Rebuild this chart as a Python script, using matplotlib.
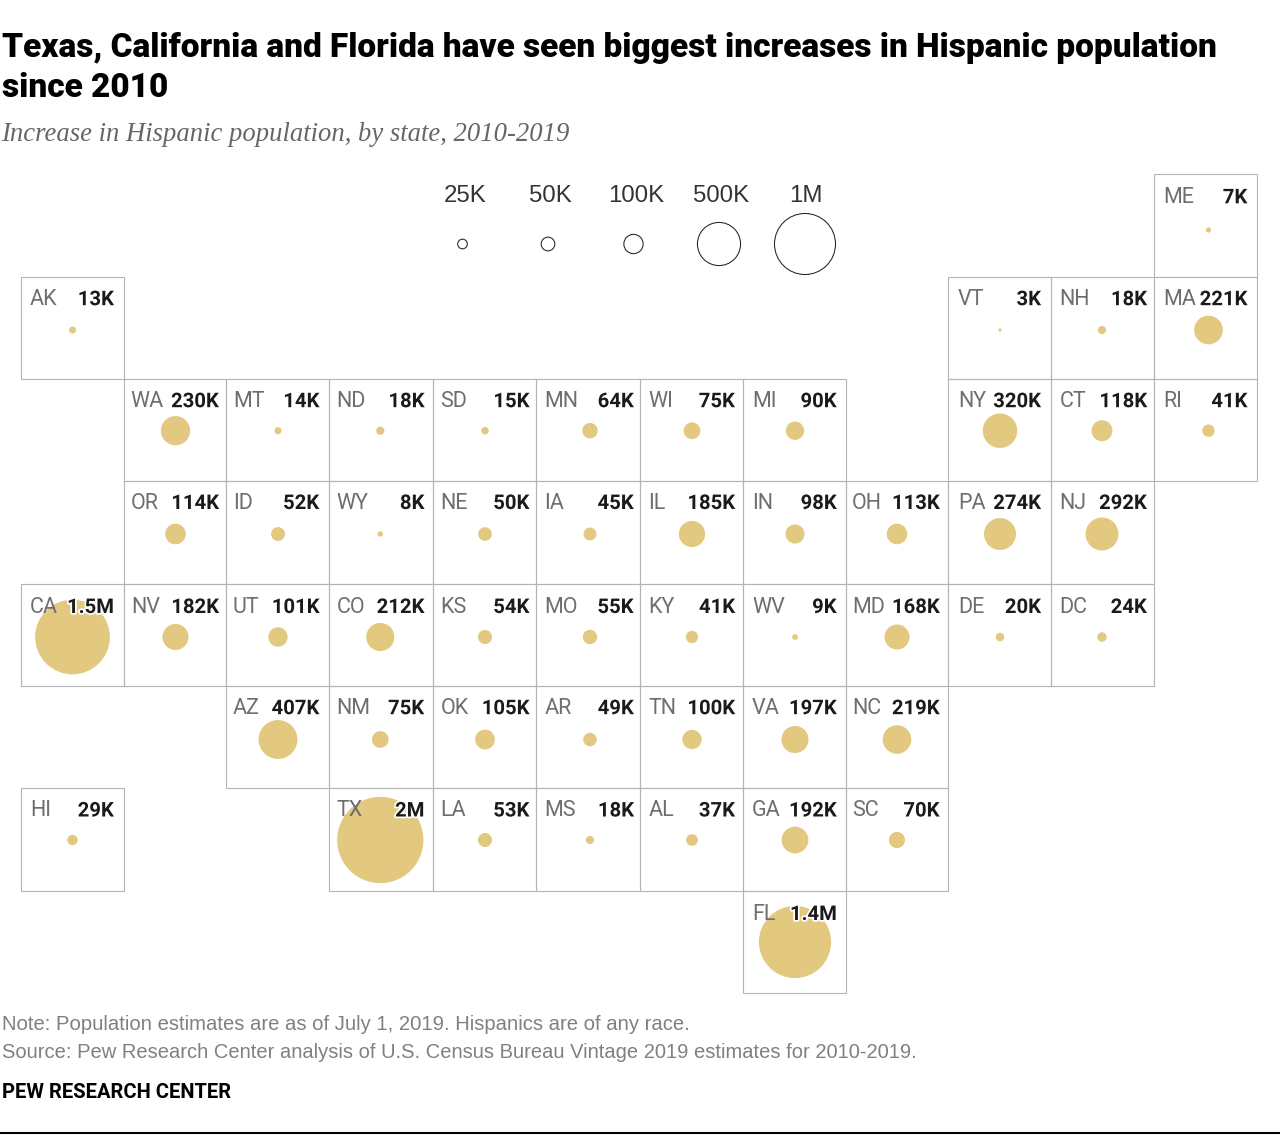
import matplotlib
matplotlib.use("Agg")
import matplotlib.pyplot as plt
import matplotlib.patheffects as pe
from matplotlib.patches import Rectangle

states = ["ME","AK","VT","NH","MA","WA","MT","ND","SD","MN","WI","MI","NY","CT","RI",
          "OR","ID","WY","NE","IA","IL","IN","OH","PA","NJ",
          "CA","NV","UT","CO","KS","MO","KY","WV","MD","DE","DC",
          "AZ","NM","OK","AR","TN","VA","NC",
          "HI","TX","LA","MS","AL","GA","SC","FL"]
columns = [11,0,9,10,11,1,2,3,4,5,6,7,9,10,11,
           1,2,3,4,5,6,7,8,9,10,
           0,1,2,3,4,5,6,7,8,9,10,
           2,3,4,5,6,7,8,
           0,3,4,5,6,7,8,7]
rows = [0,1,1,1,1,2,2,2,2,2,2,2,2,2,2,
        3,3,3,3,3,3,3,3,3,3,
        4,4,4,4,4,4,4,4,4,4,4,
        5,5,5,5,5,5,5,
        6,6,6,6,6,6,6,7]
values = [7,13,3,18,221,230,14,18,15,64,75,90,320,118,41,
          114,52,8,50,45,185,98,113,274,292,
          1500,182,101,212,54,55,41,9,168,20,24,
          407,75,105,49,100,197,219,
          29,2000,53,18,37,192,70,1400]
value_labels = ["7K","13K","3K","18K","221K","230K","14K","18K","15K","64K","75K","90K","320K","118K","41K",
                "114K","52K","8K","50K","45K","185K","98K","113K","274K","292K",
                "1.5M","182K","101K","212K","54K","55K","41K","9K","168K","20K","24K",
                "407K","75K","105K","49K","100K","197K","219K",
                "29K","2M","53K","18K","37K","192K","70K","1.4M"]
legend_values = [25,50,100,500,1000]
legend_labels = ["25K","50K","100K","500K","1M"]

title_lines = ["Texas, California and Florida have seen biggest increases in Hispanic population", "since 2010"]
subtitle = "Increase in Hispanic population, by state, 2010-2019"
note = "Note: Population estimates are as of July 1, 2019. Hispanics are of any race."
source = "Source: Pew Research Center analysis of U.S. Census Bureau Vintage 2019 estimates for 2010-2019."
credit = "PEW RESEARCH CENTER"

# layout of the tile grid, in pixels
col_edges = [20.8,123.8,226.3,329.3,432.8,536,639.8,743,845.6,948,1051,1153.8,1256.8]
row_edges = [174.3,276.7,378.7,481,583.7,685.7,788,890.5,993.3]
col_centers = [72.5,175.5,278,380.3,485,590,692,795,897,1000,1102,1208.5]
row_centers = [230,330,430.7,534,637,739.5,840,942]
row_baselines = [203.3,305.2,407.2,509,613,714.2,816.5,920]
state_dx = [9,7,6.5,7,7.5,8.5,8.5,9,6.5,10,8.5,9.5]
value_dx = [10,7.5,10,8.5,6.5,6,8,9,8.5,10,7,9.5]
R_1M = 30.5
GOLD = "#e3c880"

def size(v):
    r = R_1M * (v / 1000) ** 0.5
    return (2 * r * 72 / 100) ** 2

fig = plt.figure(figsize=(12.8, 11.36), dpi=100)
ax = fig.add_axes([0, 0, 1, 1])
ax.set_xlim(0, 1280)
ax.set_ylim(1136, 0)
ax.axis("off")

for c, r in zip(columns, rows):
    ax.add_patch(Rectangle((col_edges[c], row_edges[r]),
                           col_edges[c + 1] - col_edges[c], row_edges[r + 1] - row_edges[r],
                           fill=False, ec="#b4b4b4", lw=0.8, zorder=1))

cx = [col_centers[c] for c in columns]
cy = [row_centers[r] for r in rows]
ax.scatter(cx, cy, s=[size(v) for v in values], color=GOLD, linewidths=0, zorder=2)

for st, lab, c, r in zip(states, value_labels, columns, rows):
    base = row_baselines[r]
    ax.text(col_edges[c] + state_dx[c], base, st, fontsize=15.5, family="Roboto",
            color="#6d6e71", ha="left", va="baseline", zorder=3)
    ax.text(col_edges[c + 1] - value_dx[c], base, lab, fontsize=14.6, family="Roboto", weight="bold",
            color="#1a1a1a", ha="right", va="baseline", zorder=4,
            path_effects=[pe.withStroke(linewidth=2.5, foreground="white")])

legend_x = [462.5, 548, 633.5, 719, 805]
legend_text_x = [465, 550, 636, 721, 806]
ax.scatter(legend_x, [244] * 5, s=[size(v) for v in legend_values], facecolors="white",
           edgecolors="#222222", linewidths=0.75, zorder=2)
for x, lab in zip(legend_text_x, legend_labels):
    ax.text(x, 202.5, lab, fontsize=17.3, family="Liberation Sans", color="#333333",
            ha="center", va="baseline")

ax.text(2, 56.7, title_lines[0], fontsize=24.05, family="Roboto", weight="black", color="black", va="baseline")
ax.text(2, 96.7, title_lines[1], fontsize=24.05, family="Roboto", weight="black", color="black", va="baseline")
ax.text(1.5, 140.7, subtitle, fontsize=19.2, family="Liberation Serif", style="italic", color="#666666", va="baseline")
ax.text(2, 1030, note, fontsize=14.55, family="Liberation Sans", color="#808080", va="baseline")
ax.text(2, 1058, source, fontsize=14.53, family="Liberation Sans", color="#808080", va="baseline")
ax.text(2, 1098, credit, fontsize=14.5, family="Roboto", weight="bold", color="black", va="baseline")
ax.plot([0, 1280], [1133, 1133], color="black", lw=1.5, solid_capstyle="butt")

fig.savefig("out.png", dpi=100, facecolor="white")
